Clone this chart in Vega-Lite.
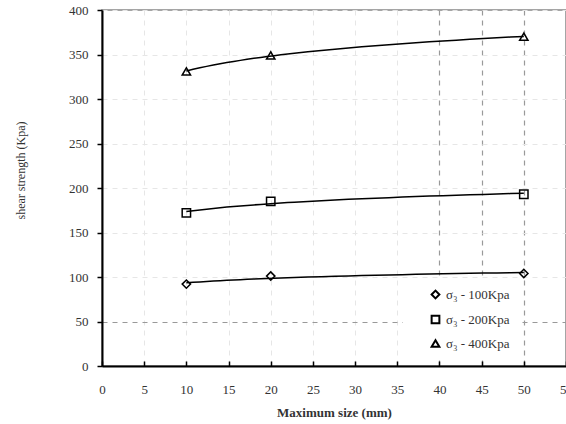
{
  "$schema": "https://vega.github.io/schema/vega-lite/v6.json",
  "width": 464,
  "height": 356,
  "autosize": {"type": "none"},
  "padding": {"left": 102, "top": 10, "right": 0, "bottom": 58},
  "background": "white",
  "config": {
    "font": "Liberation Serif",
    "view": {"stroke": "#888", "strokeWidth": 1.5},
    "axis": {"labelFont": "Liberation Serif", "titleFont": "Liberation Serif", "titleFontWeight": "normal", "labelColor": "#333", "titleColor": "#333"},
    "legend": {"labelFont": "Liberation Serif"}
  },
  "data": {
    "values": [
      {"size": 10, "strength": 92, "series": "σ₃ - 100Kpa"},
      {"size": 20, "strength": 101, "series": "σ₃ - 100Kpa"},
      {"size": 50, "strength": 104, "series": "σ₃ - 100Kpa"},
      {"size": 10, "strength": 172, "series": "σ₃ - 200Kpa"},
      {"size": 20, "strength": 185, "series": "σ₃ - 200Kpa"},
      {"size": 50, "strength": 193, "series": "σ₃ - 200Kpa"},
      {"size": 10, "strength": 331, "series": "σ₃ - 400Kpa"},
      {"size": 20, "strength": 349, "series": "σ₃ - 400Kpa"},
      {"size": 50, "strength": 370, "series": "σ₃ - 400Kpa"}
    ]
  },
  "encoding": {
    "x": {
      "field": "size", "type": "quantitative",
      "scale": {"domain": [0, 55], "nice": false, "zero": false},
      "axis": {
        "title": "Maximum size (mm)", "titleFontSize": 13, "titleFontWeight": "bold",
        "titleBaseline": "middle", "titleY": 46,
        "values": [0,5,10,15,20,25,30,35,40,45,50,55],
        "labelFontSize": 13, "labelFlush": false, "labelOverlap": false,
        "domainColor": "#000", "domainWidth": 2,
        "tickColor": "#000", "tickSize": -5, "tickWidth": 1.5, "labelPadding": 22,
        "grid": true, "gridDash": [5, 5],
        "gridColor": {"condition": {"test": "datum.value >= 40 && datum.value <= 50", "value": "#999"}, "value": "#e6e6e6"},
        "gridWidth": {"condition": {"test": "datum.value >= 40 && datum.value <= 50", "value": 1.2}, "value": 1}
      }
    },
    "y": {
      "field": "strength", "type": "quantitative",
      "scale": {"domain": [0, 400], "nice": false},
      "axis": {
        "title": "shear strength (Kpa)", "titleFontSize": 12,
        "titleBaseline": "middle", "titleX": -82, "titleY": 160, "titleAngle": -90, "titleAlign": "center",
        "values": [0,50,100,150,200,250,300,350,400],
        "labelFontSize": 13, "labelFlush": false, "labelPadding": 9,
        "domainColor": "#000", "domainWidth": 2,
        "tickColor": "#000", "tickSize": 5, "tickWidth": 1.5,
        "grid": true, "gridDash": [5, 5],
        "gridColor": {"condition": {"test": "datum.value == 50", "value": "#999"}, "value": "#e6e6e6"},
        "gridWidth": {"condition": {"test": "datum.value == 50", "value": 1.2}, "value": 1}
      }
    }
  },
  "layer": [
    {
      "transform": [{"regression": "strength", "on": "size", "groupby": ["series"], "method": "log"}],
      "mark": {"type": "line", "color": "#000", "strokeWidth": 1.5},
      "encoding": {"detail": {"field": "series"}}
    },
    {
      "mark": {"type": "point", "filled": false, "color": "#000", "strokeWidth": 1.5, "size": 70, "opacity": 1},
      "encoding": {
        "shape": {
          "field": "series", "type": "nominal",
          "scale": {"range": ["diamond", "square", "triangle-up"]},
          "legend": {
            "title": null, "orient": "none", "legendX": 301, "legendY": 270,
            "fillColor": "white", "padding": 8, "symbolOffset": 18,
            "labelFontSize": 13, "labelColor": "#333", "rowPadding": 8,
            "symbolSize": 60, "symbolStrokeWidth": 2, "labelOffset": 4
          }
        }
      }
    }
  ]
}
